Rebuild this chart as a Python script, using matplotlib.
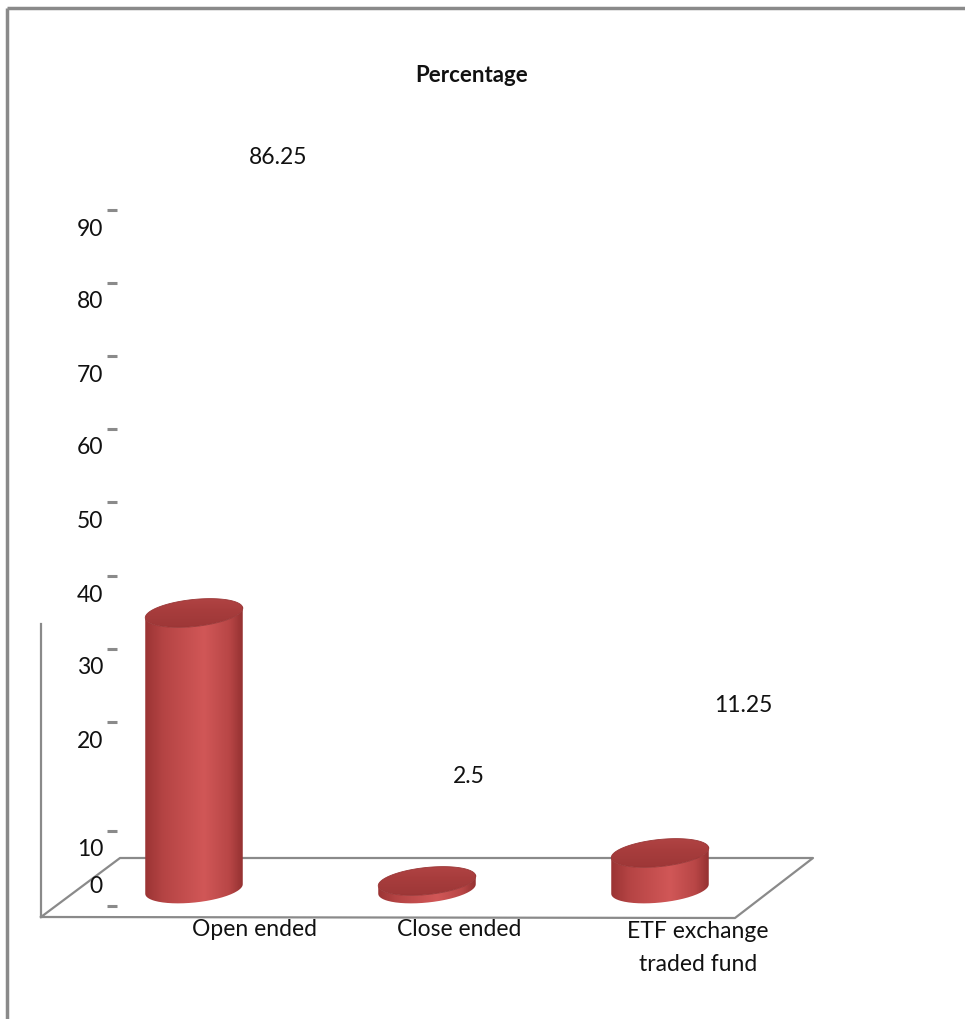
import numpy as np
import matplotlib
matplotlib.use("Agg")
import matplotlib.pyplot as plt
from matplotlib.path import Path
from matplotlib.patches import PathPatch
from matplotlib.colors import LinearSegmentedColormap

categories = ["Open ended", "Close ended", "ETF exchange\ntraded fund"]
percentages = [86.25, 2.5, 11.25]
tick_labels = ["0", "10", "20", "30", "40", "50", "60", "70", "80", "90"]

W, H = 965, 1020
plt.rcParams['font.family'] = ['Lato', 'DejaVu Sans']
FS = 16.5

fig = plt.figure(figsize=(W / 100, H / 100), dpi=100)

# bar axes: category index on x, percentage on y (hidden, used for scaling only)
ax_bar = fig.add_axes([77.5 / W, 0, 699 / W, 1])
ax_bar.set_xlim(-0.5, 2.5)
ax_bar.set_ylim(-40.625, 278.125)
ax_bar.axis('off')

# drawing layer in pixel units (y upward)
ax = fig.add_axes([0, 0, 1, 1])
ax.set_xlim(0, W)
ax.set_ylim(0, H)
ax.axis('off')
ax.set_autoscale_on(False)

grey = '#8a8a8a'

def iy(y):
    # pixel row (from top) -> display y
    return H - y

# outer frame
ax.plot([7, W], [iy(9), iy(9)], color=grey, lw=2.5, solid_capstyle='butt')
ax.plot([7, 7], [iy(9), 0], color=grey, lw=2.5, solid_capstyle='butt')

# floor and left wall edge
floor = [(41, 918), (120, 859), (813, 859), (735, 919), (41, 918)]
ax.plot([p[0] for p in floor], [iy(p[1]) for p in floor], color=grey, lw=1.6)
ax.plot([41, 41], [iy(625), iy(918)], color=grey, lw=1.6)

# value axis ticks and labels
tick_mark_y = [907, 832, 723, 650, 577, 503, 430, 357, 284, 211]
tick_text_y = [887, 850, 742, 668, 595, 521, 448, 375, 302, 230]
for ty, ly, lab in zip(tick_mark_y, tick_text_y, tick_labels):
    ax.plot([107, 117], [iy(ty), iy(ty)], color=grey, lw=2.2, solid_capstyle='butt')
    ax.text(103, iy(ly), lab, ha='right', va='center', fontsize=FS, color='#111111')

side_cmap = LinearSegmentedColormap.from_list(
    'side', [(0, '#983232'), (0.2, '#b54444'), (0.6, '#d15757'),
             (0.85, '#b84646'), (1, '#8f2e2e')])
top_cmap = LinearSegmentedColormap.from_list(
    'top', [(0, '#993535'), (0.6, '#a83d3d'), (1, '#b54747')])


def ellipse_pts(cx, cy, a, b, th, t):
    x = cx + a * np.cos(t) * np.cos(th) - b * np.sin(t) * np.sin(th)
    y = cy + a * np.cos(t) * np.sin(th) + b * np.sin(t) * np.cos(th)
    return np.column_stack([x, y])


def gradient_fill(path, x0, x1, y0, y1, cmap, vertical=False):
    patch = PathPatch(path, facecolor='none', edgecolor='none')
    ax.add_patch(patch)
    g = np.linspace(0, 1, 256)
    img = g[:, None] if vertical else g[None, :]
    im = ax.imshow(img, cmap=cmap, extent=(x0, x1, y0, y1), origin='lower',
                   aspect='auto', interpolation='bilinear', zorder=3)
    im.set_clip_path(patch)


def cylinder(cx, y_base, y_top, a=49, b=13.5, th=np.radians(6)):
    t0 = np.arctan2(-b * np.sin(th), a * np.cos(th))
    tf = np.linspace(t0 + np.pi, t0 + 2 * np.pi, 80)
    bottom = ellipse_pts(cx, y_base, a, b, th, tf)
    top = ellipse_pts(cx, y_top, a, b, th, tf)[::-1]
    side = np.vstack([bottom, top, bottom[:1]])
    gradient_fill(Path(side), cx - a - 2, cx + a + 2,
                  y_base - b - 8, y_top + b + 8, side_cmap)
    cap = ellipse_pts(cx, y_top, a, b, th, np.linspace(0, 2 * np.pi, 120))
    gradient_fill(Path(cap), cx - a - 2, cx + a + 2,
                  y_top - b - 8, y_top + b + 8, top_cmap, vertical=True)
    ax.plot(cap[:, 0], cap[:, 1], color='#9a3636', lw=0.6, zorder=4)


for i, v in enumerate(percentages):
    cx, yb = ax_bar.transData.transform((i, 0))
    _, yt = ax_bar.transData.transform((i, v))
    cylinder(cx, yb, yt)

# data labels
value_pos = [(278, 158), (469, 777), (743, 705)]
for (x, y), v in zip(value_pos, percentages):
    ax.text(x, iy(y), f"{v:g}", ha='center', va='center', fontsize=FS,
            color='#111111')

# category labels
cat_pos = [(254, 930), (459, 930), (698, 948)]
for (x, y), lab in zip(cat_pos, categories):
    ax.text(x, iy(y), lab, ha='center', va='center', fontsize=FS,
            color='#111111', linespacing=1.65)

ax.text(472, iy(75), "Percentage", ha='center', va='center', fontsize=16,
        fontweight='bold', color='#111111')

fig.savefig('out.png', dpi=100)
